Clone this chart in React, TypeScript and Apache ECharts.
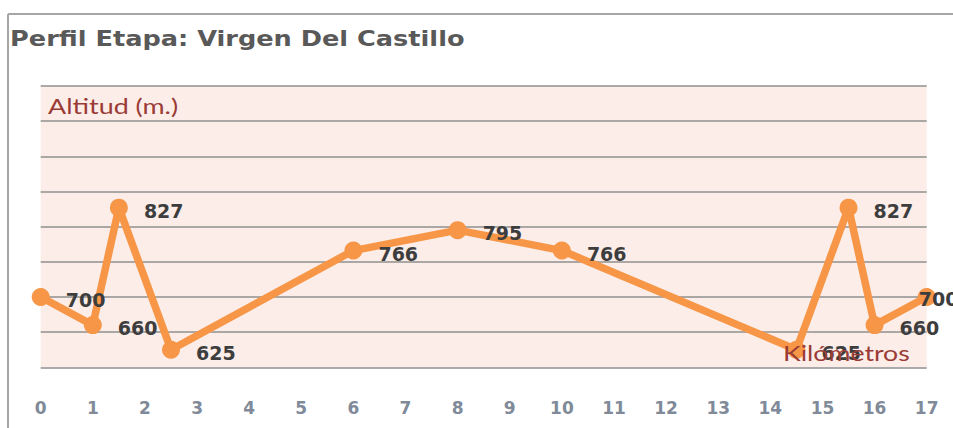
import React, { useEffect, useRef } from "react";
import * as echarts from "echarts";

const kilometers = [0, 1, 1.5, 2.5, 6, 8, 10, 14.5, 15.5, 16, 17];
const altitudes = [700, 660, 827, 625, 766, 795, 766, 625, 827, 660, 700];
const titleText = "Perfil Etapa: Virgen Del Castillo";
const yAxisName = "Altitud (m.)";
const xAxisName = "Kilómetros";

export default function App() {
  const ref = useRef<HTMLDivElement>(null);
  useEffect(() => {
    if (!ref.current) return;
    const chart = echarts.init(ref.current, undefined, { renderer: "svg" });
    const last = kilometers.length - 1;
    const data = kilometers.map((k, i) =>
      i === last
        ? { value: [k, altitudes[i]], label: { offset: [-33, 2] } }
        : { value: [k, altitudes[i]] }
    );
    chart.setOption({
      animation: false,
      backgroundColor: "#ffffff",
      grid: {
        left: 40.7,
        right: 26.3,
        top: 86,
        bottom: 60.7,
        show: true,
        backgroundColor: "#fcede8",
        borderWidth: 0,
      },
      xAxis: {
        type: "value",
        min: 0,
        max: 17,
        interval: 1,
        axisLine: { show: false },
        axisTick: { show: false },
        splitLine: { show: false },
        axisLabel: {
          margin: 32,
          fontFamily: "DejaVu Sans",
          fontWeight: "bold",
          fontSize: 17,
          color: "#808a98",
        },
      },
      yAxis: {
        type: "value",
        min: 600,
        max: 1000,
        interval: 50,
        axisLine: { show: false },
        axisTick: { show: false },
        axisLabel: { show: false },
        splitLine: { show: true, lineStyle: { color: "#8f8f8f", width: 1.6 } },
      },
      series: [
        {
          type: "line",
          data,
          symbol: "circle",
          symbolSize: 18,
          lineStyle: { color: "#f79646", width: 7.5 },
          itemStyle: { color: "#f79646" },
          label: {
            show: true,
            position: "right",
            distance: 16,
            offset: [0, 3],
            fontFamily: "DejaVu Sans",
            fontWeight: "bold",
            fontSize: 19,
            color: "#3d3d3d",
            formatter: (p: any) => String(p.value[1]),
          },
          z: 3,
        },
      ],
      graphic: [
        {
          type: "line",
          shape: { x1: 8, y1: 14, x2: 953, y2: 14 },
          style: { stroke: "#a6a6a6", lineWidth: 2 },
        },
        {
          type: "line",
          shape: { x1: 8, y1: 14, x2: 8, y2: 428 },
          style: { stroke: "#a6a6a6", lineWidth: 2 },
        },
        {
          type: "text",
          x: 10,
          y: 39,
          scaleX: 1.22,
          style: {
            text: titleText,
            font: "bold 21px 'DejaVu Sans'",
            fill: "#595959",
            textVerticalAlign: "middle",
          },
        },
        {
          type: "text",
          x: 48,
          y: 106,
          scaleX: 1.28,
          style: {
            text: yAxisName,
            font: "21px Lato",
            fill: "#9b3b36",
            textVerticalAlign: "middle",
          },
        },
        {
          type: "text",
          x: 783,
          y: 353,
          z: 10,
          scaleX: 1.27,
          style: {
            text: xAxisName,
            font: "21px Lato",
            fill: "#9b3b36",
            textVerticalAlign: "middle",
          },
        },
      ],
    });
    return () => chart.dispose();
  }, []);
  return (
    <div
      ref={ref}
      style={{ position: "fixed", left: 0, top: 0, width: 953, height: 428 }}
    />
  );
}
